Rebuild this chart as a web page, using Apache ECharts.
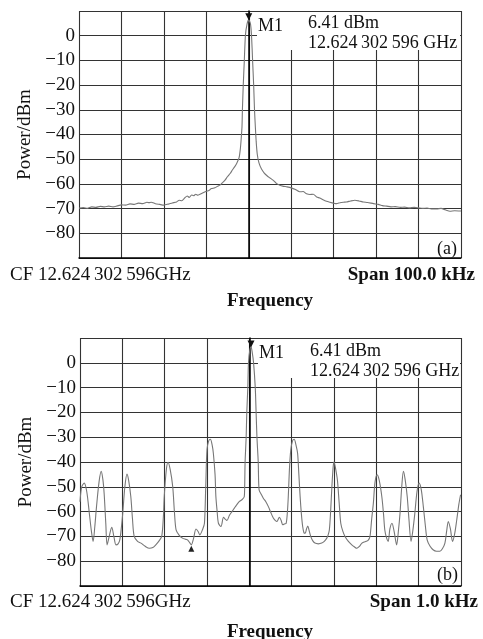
<!DOCTYPE html>
<html><head><meta charset="utf-8">
<script src="https://cdn.jsdelivr.net/npm/echarts@6/dist/echarts.min.js"></script>
<style>html,body{margin:0;padding:0;background:#fff}#c{width:483px;height:639px}</style>
</head><body><div id="c"></div>
<script>
// ---- data ----
// (a) span 100 kHz, x in kHz offset from CF
const freqA = [-40,-39,-38,-37,-36,-35,-34,-33,-32,-31,-30,-29,-28,-27,-26,-25,-24,-23.5,-23,-22,-21,-20,-19,-18,-17,-16.4,-15.8,-15,-14.5,-14,-13.5,-13,-12.5,-12,-11,-10,-9.4,-8.8,-8,-7.4,-6.8,-6.2,-5.6,-5,-4.4,-3.9,-3.3,-2.8,-2.3,-2.0,-1.8,-1.6,-1.5,-1.3,-1.05,-0.8,-0.4,0,0.4,0.65,0.9,1.15,1.35,1.55,1.75,2.0,2.4,3,3.6,4.3,5,5.8,6.5,7.3,8,9,10,11,12,12.8,13.6,14.4,15.2,16,16.7,17.5,18.3,19.1,20,20.7,21.5,22.3,23,24,25,26,27,28,29.4,30.5,31.5,32.5,33.5,34.5,35.7,36.7,37.8,39,40,41,42,43,44.3,45.3,46.3,47.4,48.5,50];
const powerA = [-69.8,-69.6,-69.9,-69.3,-69.5,-69.1,-69.3,-69.0,-69.3,-68.9,-68.5,-68.6,-68.1,-68.3,-67.8,-68,-67.4,-67.6,-67.4,-68,-68.3,-68.6,-68.2,-67.7,-67.3,-66.6,-66.8,-65.5,-64.9,-65.5,-64.5,-64.8,-64.2,-64.6,-63.8,-63,-62.7,-61.9,-61.6,-61,-60.5,-59.5,-58.5,-57,-55.8,-54.5,-53,-51.5,-49.5,-46,-42,-37,-30,-20,-10,0,4.8,6.41,4.8,0,-10,-20,-30,-37,-43,-48,-51.5,-54,-55.5,-56.7,-57.6,-58.6,-59.8,-60.5,-60.9,-61.2,-61.6,-62.3,-63.2,-63.1,-64,-64.3,-64.2,-65.3,-65.7,-66.4,-67.0,-67.4,-67.8,-68,-67.6,-67.4,-67.3,-66.9,-66.6,-66.9,-67.3,-67.5,-68,-68.3,-68.8,-69,-69.3,-69.2,-69.5,-69.4,-69.7,-69.5,-69.7,-69.9,-69.8,-70.1,-70.1,-69.9,-70.5,-71.1,-70.9,-71];
// (b) span 1.0 kHz, x in Hz offset from CF
const freqB = [-400,-396,-390,-384,-378,-373,-369,-365,-361,-355,-350,-346,-343,-339,-336,-331,-325,-320,-315,-310,-306,-302,-299,-294,-289,-285,-280,-276,-272,-264,-256,-246,-236,-228,-221,-214,-207,-203,-201,-196,-192,-187,-181,-177,-173,-166,-158,-150,-146,-141,-137,-132,-126,-121,-117,-110,-106,-103,-100,-96,-92,-88,-85,-81,-79,-76,-73,-67,-61,-57,-53,-47,-41,-35,-30,-24,-18,-12,-11,-10,-7.5,-6,-3.6,-2,1,4,7,10,14,16,18,21,23,28,33,39,45,51,57,61,65,71,75,79,83,87,90,92,95,98,102,106,110,114,117,120,123,126,129,132,135,138,141,145,150,155,163,171,177,183,186,189,192,195,198,200,203,208,212,216,221,226,234,242,248,254,260,266,271,276,281,285,289,293,297,302,307,313,317,320,324,328,332,337,342,348,352,356,360,364,368,373,377,382,386,391,396,401,406,411,416,420,427,434,442,450,456,462,466,470,475,480,485,490,495,499];
const powerB = [-56,-50,-48.5,-52,-60.6,-68,-72,-66,-58,-48,-43.8,-47,-52.6,-65,-73.4,-70,-66.3,-70,-73.4,-73,-71.4,-66,-60.6,-50,-44.9,-47.5,-53.9,-63,-70,-72,-72.7,-74,-74.8,-74.5,-73.4,-72,-70,-62,-53.9,-43,-40.1,-43,-49.9,-60,-67.4,-69.5,-70.7,-71.2,-71.4,-72.5,-73.4,-71,-67,-68,-69.4,-67,-64.7,-50,-35,-31.5,-30.8,-33,-36.5,-45,-54,-60,-64.7,-66,-62.3,-63,-63.6,-61.5,-60,-58.5,-57.3,-56,-55.3,-54,-50,-40,-30,-20,-10,0,5,6.41,4,0,-10,-20,-30,-40,-51.2,-53,-54.6,-56,-58,-60.5,-62.7,-63.5,-64,-62.3,-63.5,-65.3,-65,-64.7,-60,-54,-42,-35,-31.5,-30.8,-33,-36.5,-45,-54,-61,-66,-68.5,-68.7,-67,-65.8,-67.5,-70,-71.8,-72.7,-73,-72.7,-72,-70.7,-69.5,-67.4,-60,-50,-42,-40,-42,-47.2,-56,-64.7,-68,-70,-72,-73.4,-74.2,-74.8,-74,-72.7,-72.3,-72,-71.5,-70,-63,-56.6,-48,-45.2,-47.5,-54,-61,-67.4,-70.5,-72,-67,-64.7,-68,-73.4,-68,-60.6,-50,-43.8,-47,-54,-63,-72,-68,-60.6,-52,-48.5,-51,-58,-66,-71.4,-74,-75.4,-76,-76,-75,-72.7,-68,-64,-67,-72,-69,-63.3,-57,-53.2];
const markerA = [0, 6.41];
const markerB = [4, 6.41];
const deltaB = [-137, -73.4];
const yTicks = [0,-10,-20,-30,-40,-50,-60,-70,-80];
const markerText = ['M1', '6.41 dBm', '12.624\u2009302\u2009596 GHz'];
const cfText = 'CF 12.624\u2009302\u2009596GHz';
const spanA = 'Span 100.0 kHz', spanB = 'Span 1.0 kHz';
const xName = 'Frequency', yName = 'Power/dBm';

const zip = (a,b)=>a.map((v,i)=>[v,b[i]]);
const FONT = '"Liberation Serif","Times New Roman",serif';
const chart = echarts.init(document.getElementById('c'), null, {renderer:'canvas'});

function yAxis(gi){
  return {gridIndex:gi,type:'value',min:-90,max:10,interval:10,
    name:yName,nameLocation:'middle',nameGap:42,
    nameTextStyle:{fontFamily:FONT,fontSize:19,color:'#111'},
    axisLine:{show:true,lineStyle:{color:'#000',width:1.5}},
    axisTick:{show:false},
    axisLabel:{margin:4,fontFamily:FONT,fontSize:19,color:'#111',
      formatter:v=> yTicks.indexOf(v)>=0 ? String(v).replace('-','\u2212') : ''},
    splitLine:{show:true,lineStyle:{color:'#333',width:1.1}}};
}
function xAxis(gi,min,max,iv){
  return {gridIndex:gi,type:'value',min:min,max:max,interval:iv,
    axisLine:{show:true,onZero:false,lineStyle:{color:'#000',width:1.5}},
    axisTick:{show:false},axisLabel:{show:false},
    splitLine:{show:true,lineStyle:{color:'#333',width:1.1}}};
}
function txt(x,y,t,opt){
  return Object.assign({type:'text',z:60,style:Object.assign({x:x,y:y,text:t,font:'18px '+FONT,fill:'#111',textAlign:'left',textVerticalAlign:'middle'},opt||{})});
}
function curve(gi,data,mk,sm,extraMarks){
  const pts=[{coord:mk,symbol:'triangle',symbolRotate:180,symbolSize:[7,7],symbolOffset:[0,-3],itemStyle:{color:'#111'},label:{show:false}}];
  if(extraMarks) pts.push({coord:extraMarks,symbol:'triangle',symbolSize:[6,6],symbolOffset:[0,4],itemStyle:{color:'#222'},label:{show:false}});
  return {type:'line',xAxisIndex:gi,yAxisIndex:gi,data:data,showSymbol:false,smooth:sm,
    lineStyle:{color:'#777',width:1.1},z:3,silent:true,
    markPoint:{data:pts,animation:false,silent:true}};
}
const opt = {
  animation:false,backgroundColor:'#fff',
  grid:[{left:79,top:11,width:382,height:247},{left:80,top:338,width:381,height:248}],
  xAxis:[xAxis(0,-40,50,10),xAxis(1,-400,500,100)],
  yAxis:[yAxis(0),yAxis(1)],
  series:[curve(0,zip(freqA,powerA),markerA,0.2),curve(1,zip(freqB,powerB),markerB,0.3,deltaB)],
  graphic:[
    {type:'rect',z:50,shape:{x:257,y:12,width:203,height:38},style:{fill:'#fff'}},
    {type:'rect',z:50,shape:{x:258,y:339,width:202,height:39},style:{fill:'#fff'}},
    txt(258,26,markerText[0]), txt(308,23,markerText[1]), txt(308,43,markerText[2]),
    txt(259,353,markerText[0]), txt(310,351,markerText[1]), txt(310,371,markerText[2]),
    txt(457,249,'(a)',{textAlign:'right'}), txt(458,575,'(b)',{textAlign:'right'}),
    txt(10,275,cfText,{font:'19px '+FONT}), txt(475,275,spanA,{font:'bold 19px '+FONT,textAlign:'right'}),
    txt(10,602,cfText,{font:'19px '+FONT}), txt(478,602,spanB,{font:'bold 19px '+FONT,textAlign:'right'}),
    txt(270,301,xName,{font:'bold 19px '+FONT,textAlign:'center'}),
    txt(270,632,xName,{font:'bold 19px '+FONT,textAlign:'center'})
  ]
};
chart.setOption(opt);
</script></body></html>
